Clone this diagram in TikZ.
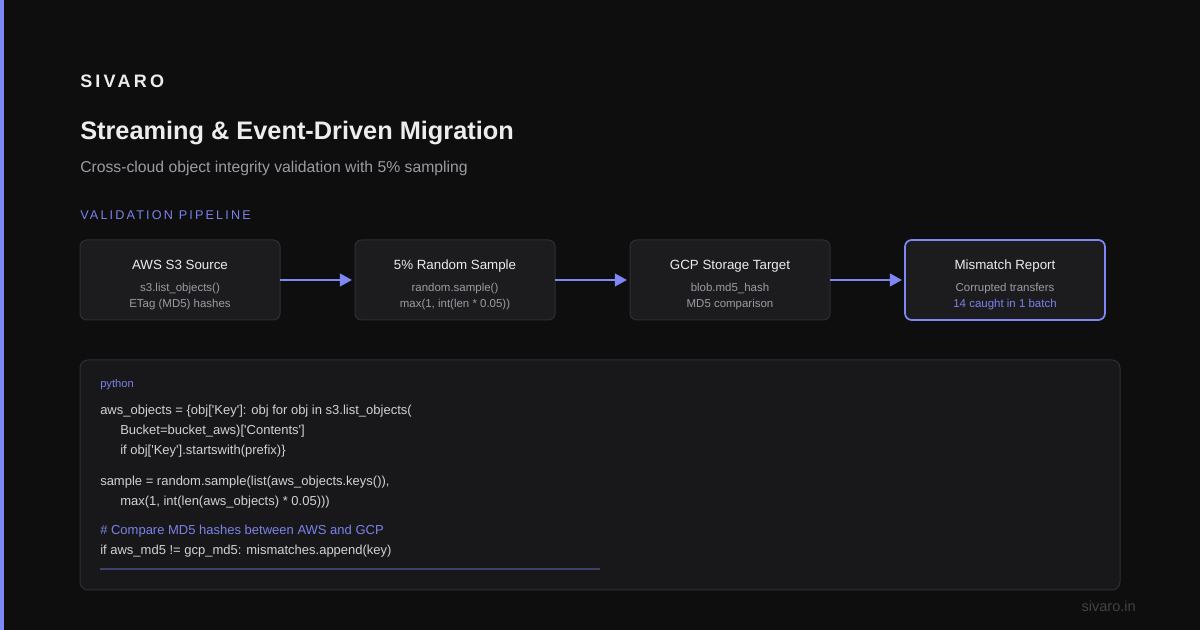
\documentclass[tikz,border=0pt]{standalone}
\usepackage{fontspec}
\setmainfont{Liberation Sans}
\newfontfamily\brandfont{Liberation Sans}[LetterSpace=18]
\newfontfamily\capsfont{Liberation Sans}[LetterSpace=17]
\usepackage{xcolor}
\usepackage{tikz}
\usetikzlibrary{arrows.meta, positioning, calc}
\definecolor{pagebg}{HTML}{0E0E0F}
\definecolor{accent}{HTML}{7F87F5}
\definecolor{stagefill}{HTML}{1C1C1F}
\definecolor{stageline}{HTML}{2E2E33}
\definecolor{codefill}{HTML}{18181B}
\definecolor{headtext}{HTML}{EDEDEF}
\definecolor{subtext}{HTML}{9B9BA3}
\definecolor{bluetext}{HTML}{7B82E8}
\definecolor{codetext}{HTML}{D2D2D6}
\definecolor{rulecol}{HTML}{3D416E}
\definecolor{foottext}{HTML}{424247}
\tikzset{
  % Pipeline styles
  stage/.style={rectangle, rounded corners=5pt, minimum width=150pt, minimum height=60pt, draw=stageline, fill=stagefill, line width=0.75pt, outer sep=0pt},
  stagehot/.style={stage, draw=accent, line width=1.3pt},
  stagetitle/.style={font=\fontsize{10}{12}\selectfont, text=headtext, anchor=base, inner sep=0pt},
  stagenote/.style={font=\fontsize{8.6}{10}\selectfont, text=#1, anchor=base, inner sep=0pt},
  stagenote/.default={subtext},
  flow/.style={-{Triangle[length=9pt, width=9.5pt]}, line width=1.5pt, draw=accent, shorten >=2.3pt},
  % Code panel styles
  codebox/.style={rectangle, rounded corners=6pt, minimum width=780pt, minimum height=172.5pt, draw=stageline, fill=codefill, line width=0.75pt},
  codeline/.style={font=\fontsize{9.75}{12}\selectfont, text=#1, anchor=base west, inner sep=0pt},
  codeline/.default={codetext},
  % Header styles
  plain/.style={anchor=base west, inner sep=0pt},
}

\begin{document}
\begin{tikzpicture}[x=0.75pt, y=-0.75pt]
    % Page
    \fill[pagebg] (0,0) rectangle (1200,630);
    \useasboundingbox (0,0) rectangle (1200,630);
    \fill[accent] (0,0) rectangle (4,630);

    % Header
    \node[plain, text=headtext, font=\brandfont\fontsize{13.5}{16}\selectfont\bfseries] (brand) at (80,88) {SIVARO};
    \node[plain, text=headtext, font=\fontsize{19}{22}\selectfont\bfseries] (title) at (80,140) {Streaming \& Event-Driven Migration};
    \node[plain, text=subtext, font=\fontsize{11.8}{14}\selectfont] (subtitle) at (80,172.5) {Cross-cloud object integrity validation with 5\% sampling};
    \node[plain, text=bluetext, font=\capsfont\fontsize{9.5}{12}\selectfont] (section) at (80,220) {VALIDATION PIPELINE};

    % Stages
    \node[stage] (s3src) at (180,280) {};
    \node[stage, right=56.25pt of s3src] (sampler) {};
    \node[stage, right=56.25pt of sampler] (gcstgt) {};
    \node[stagehot, right=56.25pt of gcstgt] (report) {};

    % Stage texts
    \node[stagetitle] (s3src-t) at ($(s3src.north)+(0,30)$) {AWS S3 Source};
    \node[stagenote] (s3src-a) at ($(s3src.north)+(0,52)$) {s3.list\_objects()};
    \node[stagenote] (s3src-b) at ($(s3src.north)+(0,68)$) {ETag (MD5) hashes};

    \node[stagetitle] (sampler-t) at ($(sampler.north)+(0,30)$) {5\% Random Sample};
    \node[stagenote] (sampler-a) at ($(sampler.north)+(0,52)$) {random.sample()};
    \node[stagenote] (sampler-b) at ($(sampler.north)+(0,68)$) {max(1, int(len * 0.05))};

    \node[stagetitle] (gcstgt-t) at ($(gcstgt.north)+(0,30)$) {GCP Storage Target};
    \node[stagenote] (gcstgt-a) at ($(gcstgt.north)+(0,52)$) {blob.md5\_hash};
    \node[stagenote] (gcstgt-b) at ($(gcstgt.north)+(0,68)$) {MD5 comparison};

    \node[stagetitle] (report-t) at ($(report.north)+(0,30)$) {Mismatch Report};
    \node[stagenote] (report-a) at ($(report.north)+(0,52)$) {Corrupted transfers};
    \node[stagenote=bluetext] (report-b) at ($(report.north)+(0,68)$) {14 caught in 1 batch};

    % Arrows
    \draw[flow] (s3src) -- (sampler);
    \draw[flow] (sampler) -- (gcstgt);
    \draw[flow] (gcstgt) -- (report);

    % Code panel
    \node[codebox] (codepanel) at (600,475) {};
    \node[codeline=bluetext, font=\fontsize{8.4}{10}\selectfont] (lang) at (100,387.5) {python};
    \node[codeline] (code1) at (100,415) {aws\_objects = \{obj[\textquotesingle Key\textquotesingle]: obj for obj in s3.list\_objects(};
    \node[codeline] (code2) at (120,435) {Bucket=bucket\_aws)[\textquotesingle Contents\textquotesingle]};
    \node[codeline] (code3) at (120,455) {if obj[\textquotesingle Key\textquotesingle].startswith(prefix)\}};
    \node[codeline] (code4) at (100,485.5) {sample = random.sample(list(aws\_objects.keys()),};
    \node[codeline] (code5) at (120,505.5) {max(1, int(len(aws\_objects) * 0.05)))};
    \node[codeline=bluetext] (code6) at (100,535) {\# Compare MD5 hashes between AWS and GCP};
    \node[codeline] (code7) at (100,555) {if aws\_md5 != gcp\_md5: mismatches.append(key)};
    \draw[rulecol, line width=1.5pt] (100,569) -- (600,569);

    % Footer
    \node[anchor=base east, inner sep=0pt, text=foottext, font=\fontsize{10.9}{13}\selectfont] (footer) at (1136,612) {sivaro.in};
\end{tikzpicture}
\end{document}
